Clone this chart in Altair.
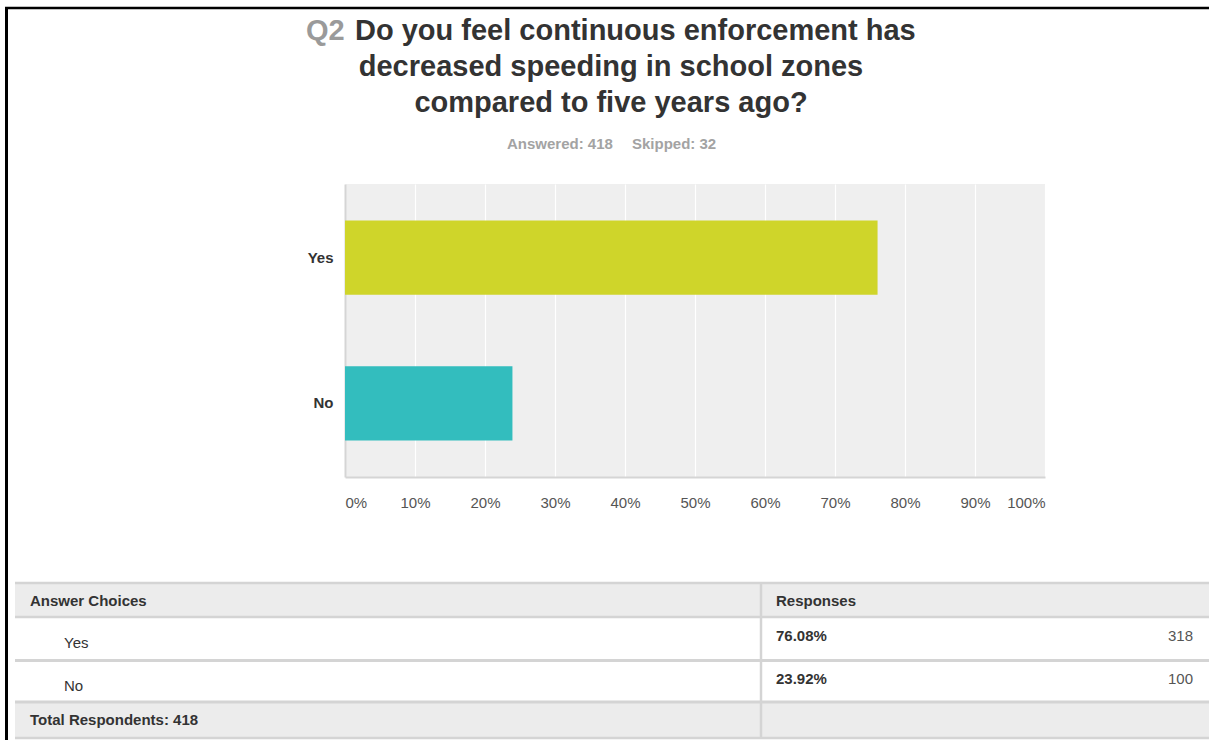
import altair as alt
import pandas as pd

# ---------------- data ----------------
title_prefix = "Q2"
title_lines = [
    "Do you feel continuous enforcement has",
    "decreased speeding in school zones",
    "compared to five years ago?",
]
answered = 418
skipped = 32
choices = ["Yes", "No"]
percents = [76.08, 23.92]
counts = [318, 100]
bar_colors = ["#cfd52a", "#33bdbe"]
tick_values = [0, 10, 20, 30, 40, 50, 60, 70, 80, 90, 100]
table_header = ["Answer Choices", "Responses"]

# ---------------- layout ----------------
CW, CH = 1209, 740          # canvas
OX, OY = 345, 184           # plot origin
W, H = 700, 293             # plot size
FONT = "Liberation Sans"
DARK = "#333333"
LINE = "#d4d4d4"


def px(X):
    return X - OX


def py(Y):
    return Y - OY


df = pd.DataFrame({"choice": choices, "pct": percents, "count": counts})
df["pct_label"] = [f"{p:.2f}%" for p in percents]
one = pd.DataFrame({"k": [0]})


def txt(text, X, Y, size, weight="normal", color=DARK, align="left", baseline="alphabetic"):
    return alt.Chart(one).mark_text(
        text=text, align=align, baseline=baseline, font=FONT,
        fontSize=size, fontWeight=weight, color=color,
    ).encode(x=alt.value(px(X)), y=alt.value(py(Y)))


def hrule(X1, X2, Y, width, color=LINE):
    return alt.Chart(one).mark_rule(color=color, strokeWidth=width).encode(
        x=alt.value(px(X1)), x2=alt.value(px(X2)), y=alt.value(py(Y)))


def vrule(X, Y1, Y2, width, color=LINE):
    return alt.Chart(one).mark_rule(color=color, strokeWidth=width).encode(
        x=alt.value(px(X)), y=alt.value(py(Y1)), y2=alt.value(py(Y2)))


def box(X1, X2, Y1, Y2, color):
    return alt.Chart(one).mark_rect(color=color).encode(
        x=alt.value(px(X1)), x2=alt.value(px(X2)),
        y=alt.value(py(Y1)), y2=alt.value(py(Y2)))


# ---------------- bar chart ----------------
bars = alt.Chart(df).mark_bar().encode(
    x=alt.X(
        "pct:Q",
        scale=alt.Scale(domain=[0, 100], nice=False, zero=True),
        axis=alt.Axis(
            values=tick_values, labelExpr="datum.value + '%'", title=None,
            grid=True, gridColor="#ffffff", gridWidth=1.2, gridOpacity=1,
            domain=True, domainColor="#d5d5d5", domainWidth=2,
            ticks=False, tickSize=0, labelPadding=25, labelBaseline="middle",
            labelFlush=True, labelFont=FONT, labelFontSize=15, labelColor="#555555",
        ),
    ),
    y=alt.Y(
        "choice:N", sort=choices,
        scale=alt.Scale(domain=choices, paddingInner=0.49, paddingOuter=0.25),
        axis=alt.Axis(
            title=None, ticks=False, tickSize=0, grid=False,
            domainColor="#d5d5d5", domainWidth=2, labelPadding=12,
            labelFont=FONT, labelFontSize=15, labelFontWeight="bold", labelColor=DARK,
        ),
    ),
    color=alt.Color("choice:N", scale=alt.Scale(domain=choices, range=bar_colors), legend=None),
)

# ---------------- title ----------------
title_layers = [
    txt(title_prefix, 306, 39.5, 29, "bold", "#9a9a9a"),
    txt(title_lines[0], 355, 39.5, 29, "bold"),
    txt(title_lines[1], 611, 75.5, 29, "bold", align="center"),
    txt(title_lines[2], 611, 111.5, 29, "bold", align="center"),
    txt(f"Answered: {answered}", 507, 149, 15, "bold", "#a3a3a3"),
    txt(f"Skipped: {skipped}", 632, 149, 15, "bold", "#a3a3a3"),
]

# ---------------- table ----------------
row_scale = alt.Scale(type="point", domain=choices, range=[py(639.5), py(682.5)], padding=0)

table_layers = [
    box(15, CW, 583, 617, "#ececec"),
    box(15, CW, 702, 738, "#ececec"),
    hrule(15, CW, 583, 2.5),
    hrule(15, CW, 617, 2.5),
    hrule(15, CW, 660.5, 3),
    hrule(15, CW, 702, 3),
    hrule(15, CW, 738, 2.5),
    vrule(761, 583, 738, 2.5),
    txt(table_header[0], 30, 601, 15, "bold", baseline="middle"),
    txt(table_header[1], 776, 601, 15, "bold", baseline="middle"),
    txt(f"Total Respondents: {answered}", 30, 720, 15, "bold", baseline="middle"),
    alt.Chart(df).mark_text(align="left", baseline="middle", dy=3.5, font=FONT,
                            fontSize=15, color=DARK).encode(
        x=alt.value(px(64)),
        y=alt.Y("choice:N", sort=choices, scale=row_scale, axis=None),
        text="choice:N"),
    alt.Chart(df).mark_text(align="left", baseline="middle", dy=-4, font=FONT,
                            fontSize=15, fontWeight="bold", color=DARK).encode(
        x=alt.value(px(776)),
        y=alt.Y("choice:N", sort=choices, scale=row_scale, axis=None),
        text="pct_label:N"),
    alt.Chart(df).mark_text(align="right", baseline="middle", dy=-4, font=FONT,
                            fontSize=15, color="#555555").encode(
        x=alt.value(px(1193)),
        y=alt.Y("choice:N", sort=choices, scale=row_scale, axis=None),
        text="count:Q"),
]

# ---------------- screenshot frame ----------------
frame_layers = [
    hrule(5, CW, 8, 2.5, "#000000"),
    vrule(6.5, 7, CH, 3, "#000000"),
]

chart = alt.layer(bars, *title_layers, *table_layers, *frame_layers).resolve_scale(
    y="independent"
).properties(
    width=W, height=H,
    autosize=alt.AutoSizeParams(type="none"),
    padding={"left": OX, "top": OY, "right": CW - OX - W, "bottom": CH - OY - H},
    background="white",
).configure_view(fill="#efefef", strokeWidth=0)

chart.save("out.html", embed_options={"renderer": "svg", "actions": False})
